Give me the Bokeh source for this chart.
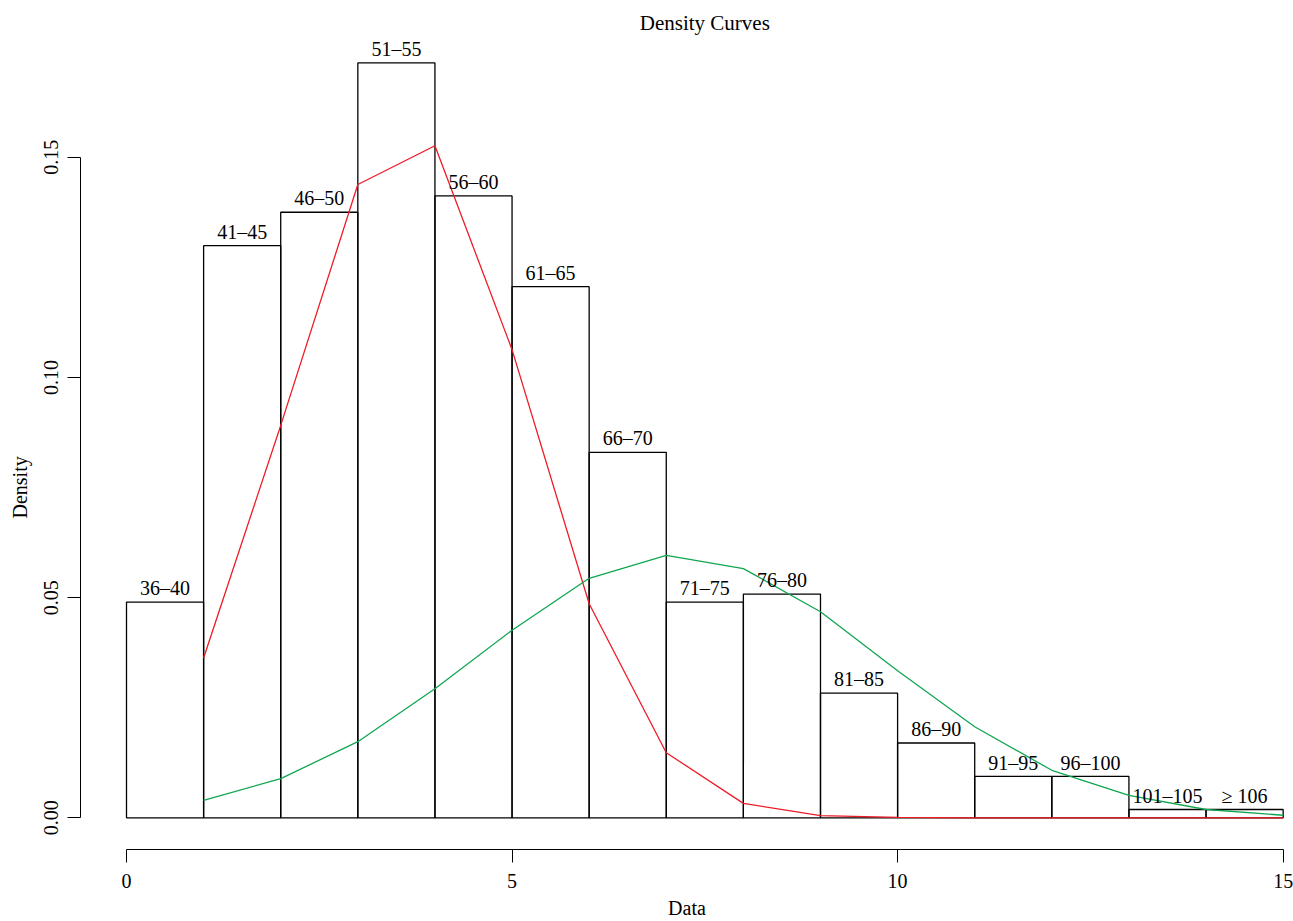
from bokeh.plotting import figure
from bokeh.models import Range1d, FixedTicker, PrintfTickFormatter, Label, Title
from bokeh.core.properties import value
from bokeh.embed import file_html
from bokeh.resources import INLINE

# ---- data ----
bin_labels = ["36\u201340", "41\u201345", "46\u201350", "51\u201355", "56\u201360",
              "61\u201365", "66\u201370", "71\u201375", "76\u201380", "81\u201385",
              "86\u201390", "91\u201395", "96\u2013100", "101\u2013105", "\u2265 106"]
bin_left = list(range(0, 15))
bin_right = list(range(1, 16))
density = [0.0490, 0.1299, 0.1375, 0.1714, 0.1412, 0.1206, 0.0830, 0.0490,
           0.0508, 0.0283, 0.0170, 0.0094, 0.0094, 0.0019, 0.0019]

curve_x = list(range(1, 16))
red_curve = [0.0363, 0.0891, 0.1438, 0.1526, 0.1063, 0.0486, 0.0148, 0.0033,
             0.0005, 0.0001, 0.0, 0.0, 0.0, 0.0, 0.0]
green_curve = [0.0040, 0.0089, 0.0173, 0.0293, 0.0426, 0.0544, 0.0596, 0.0566,
               0.0468, 0.0334, 0.0207, 0.0108, 0.0051, 0.0019, 0.0006]

x_ticks = [0, 5, 10, 15]
y_ticks = [0.0, 0.05, 0.10, 0.15]

title_text = "Density Curves"
x_label = "Data"
y_label = "Density"

FONT = "Liberation Serif"
RED = "#EE1C25"
GREEN = "#0FA650"

# ---- layout / scales ----
W, H = 1293, 921
PX_Y = 4415.0      # pixels per density unit
Y0_SCREEN = 819.3  # canvas y of density 0
PX_X = 77.11       # pixels per x unit
X0_SCREEN = 126.0  # canvas x of x = 0
LEFT, TOP, BOTTOM = 80, 0, 70
frame_bottom = H - BOTTOM
x_start = (LEFT - X0_SCREEN) / PX_X
x_end = (W - X0_SCREEN) / PX_X
y_start = (Y0_SCREEN - frame_bottom) / PX_Y
y_end = (Y0_SCREEN - TOP) / PX_Y

p = figure(width=W, height=H, output_backend="svg", toolbar_location=None,
           x_range=Range1d(x_start, x_end), y_range=Range1d(y_start, y_end),
           min_border_left=LEFT, min_border_right=0, min_border_top=TOP,
           min_border_bottom=BOTTOM)
p.outline_line_color = None
p.xgrid.visible = False
p.ygrid.visible = False

p.quad(left=bin_left, right=bin_right, bottom=0, top=density,
       fill_color=None, line_color="black", line_width=1.3)
p.line(curve_x, red_curve, line_color=RED, line_width=1.3)
p.line(curve_x, green_curve, line_color=GREEN, line_width=1.3)

centers = [(a + b) / 2 for a, b in zip(bin_left, bin_right)]
label_y = [d + 14.0 / PX_Y for d in density]
p.text(x=centers, y=label_y, text=bin_labels, text_font=value(FONT),
       text_font_size="20px", text_align="center", text_baseline="middle",
       text_color="black")

for ax in (p.xaxis[0], p.yaxis[0]):
    ax.axis_line_color = "black"
    ax.axis_line_width = 1
    ax.major_tick_line_color = "black"
    ax.major_tick_line_width = 1
    ax.major_tick_in = 0
    ax.major_tick_out = 13
    ax.minor_tick_line_color = None
    ax.major_label_text_font = FONT
    ax.major_label_text_font_size = "20px"
    ax.major_label_text_color = "black"
    ax.axis_label_text_font = FONT
    ax.axis_label_text_font_size = "20px"
    ax.axis_label_text_font_style = "normal"
    ax.axis_label_text_color = "black"

p.xaxis[0].ticker = FixedTicker(ticks=x_ticks)
p.xaxis[0].formatter = PrintfTickFormatter(format="%d")
p.xaxis[0].bounds = (0, 15)
p.xaxis[0].major_label_standoff = 11
p.xaxis[0].axis_label = x_label
p.xaxis[0].axis_label_standoff = 6

p.yaxis[0].ticker = FixedTicker(ticks=y_ticks)
p.yaxis[0].formatter = PrintfTickFormatter(format="%.2f")
p.yaxis[0].bounds = (0, 0.15)
p.yaxis[0].major_label_orientation = "vertical"
p.yaxis[0].major_label_standoff = 9

# y label as a left-side title so it can be centred on the 0..0.15 span
ytitle = Title(text=y_label, align="left", offset=331, standoff=17,
               vertical_align="top", text_font=FONT, text_font_size="20px",
               text_font_style="normal", text_color="black")
p.add_layout(ytitle, "left")

p.add_layout(Label(x=7.5, y=(Y0_SCREEN - 23) / PX_Y, text=title_text, text_font=FONT,
                   text_font_size="21px", text_align="center",
                   text_baseline="middle", text_color="black"))

open("out.html", "w").write(file_html(p, INLINE))
